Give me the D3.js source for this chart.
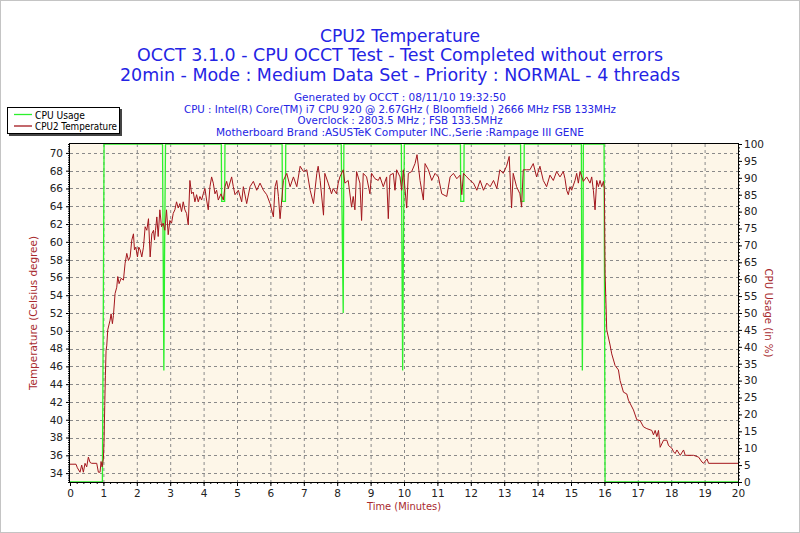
<!DOCTYPE html>
<html>
<head>
<meta charset="utf-8">
<script src="https://cdn.jsdelivr.net/npm/d3@7"></script>
<style>
    body { margin: 0; background: #fff; }
    svg { display: block; font-family: "DejaVu Sans", Verdana, sans-serif; }
</style>
</head>
<body>
<div id="chart"></div>
<script>
// ---- data ----
const titleLines = [
    "CPU2 Temperature",
    "OCCT 3.1.0 - CPU OCCT Test - Test Completed without errors",
    "20min - Mode : Medium Data Set - Priority : NORMAL - 4 threads"
];
const infoLines = [
    "Generated by OCCT : 08/11/10 19:32:50",
    "CPU : Intel(R) Core(TM) i7 CPU 920 @ 2.67GHz ( Bloomfield ) 2666 MHz FSB 133MHz",
    "Overclock : 2803.5 MHz ; FSB 133.5MHz",
    "Motherboard Brand :ASUSTeK Computer INC.,Serie :Rampage III GENE"
];
const seriesNames = ["CPU Usage", "CPU2 Temperature"];

const minuteTicks = d3.range(0, 21, 1);
const tempTicks = d3.range(34, 71, 2);
const usageTicks = d3.range(0, 101, 5);

// [minute, %]
const cpuUsage = [
    [0, 0], [0.97, 0], [1.0, 57], [1.02, 100],
    [2.77, 100], [2.79, 66], [2.81, 33], [2.83, 66], [2.86, 100],
    [4.53, 100], [4.54, 83], [4.63, 83], [4.64, 100],
    [6.35, 100], [6.36, 83], [6.45, 83], [6.46, 100],
    [8.12, 100], [8.14, 83], [8.18, 50], [8.2, 100],
    [9.92, 100], [9.94, 66], [9.96, 33], [9.98, 66], [10.01, 100],
    [11.69, 100], [11.7, 83], [11.79, 83], [11.8, 100],
    [13.49, 100], [13.5, 83], [13.59, 83], [13.6, 100],
    [15.31, 100], [15.32, 66], [15.34, 33], [15.36, 66], [15.37, 100],
    [15.99, 100], [16.01, 35], [16.02, 0], [20, 0]
];

// [minute, degC]
const cpu2Temp = [
    [0, 35], [0.18, 35], [0.22, 34.6], [0.3, 34.1], [0.35, 34.9], [0.4, 34.1], [0.45, 35.1],
    [0.5, 34.7], [0.55, 35.8], [0.6, 35.2], [0.65, 35.1], [0.8, 35.1], [0.85, 34.1], [0.9, 34.1],
    [0.93, 35.3], [0.96, 34.7], [1.0, 35.6], [1.02, 37.7], [1.04, 41.6], [1.06, 45], [1.08, 47.8],
    [1.1, 48.3], [1.13, 50.1],
    [1.2, 51.2], [1.23, 51.9], [1.27, 50.8], [1.3, 51.7], [1.35, 54.2], [1.4, 54.9], [1.43, 56.1],
    [1.47, 55.3], [1.53, 55.9], [1.6, 55.7], [1.65, 57.6], [1.7, 58.7], [1.75, 57.9], [1.8, 58.3],
    [1.85, 60.2], [1.9, 60.9], [1.93, 59.1], [1.97, 59.4], [2.02, 58.3], [2.06, 59.4], [2.1, 59.1],
    [2.15, 58.3], [2.2, 59.4], [2.25, 61.7], [2.3, 61.3], [2.35, 62.6], [2.4, 58.3], [2.45, 60.9],
    [2.5, 61.3], [2.53, 60.2], [2.56, 61.3], [2.6, 62.8], [2.64, 60.6], [2.69, 63.6], [2.74, 61.7],
    [2.79, 62.1], [2.84, 61.3], [2.89, 63.6], [2.94, 60.8], [2.99, 62.4], [3.04, 62.1], [3.09, 63.2],
    [3.14, 63.6], [3.19, 64.5], [3.24, 63.8], [3.29, 64.3], [3.34, 63.4], [3.39, 64.5], [3.44, 63.6],
    [3.49, 63.2], [3.54, 61.9], [3.59, 66.9], [3.64, 65.4], [3.69, 65.6], [3.74, 64.5], [3.79, 65.3],
    [3.84, 64.5], [3.89, 65.1], [3.94, 64.7], [3.99, 65.4], [4.04, 66.0], [4.09, 64.7], [4.14, 63.6],
    [4.19, 66.2], [4.24, 67.3], [4.29, 66.6], [4.34, 65.4], [4.39, 65.8], [4.44, 64.7], [4.52, 65.4],
    [4.59, 64.7], [4.64, 66.2],
    [4.69, 66.8], [4.74, 66.0], [4.84, 67.3], [4.89, 66.2], [4.94, 65.3], [5.04, 65.8], [5.14, 64.5],
    [5.19, 66.2], [5.29, 64.3], [5.39, 66.2], [5.49, 66.8], [5.59, 65.8], [5.69, 66.6], [5.79, 65.8],
    [5.89, 65.3], [5.99, 64.3], [6.09, 62.8], [6.14, 66.2], [6.19, 66.9], [6.24, 65.1], [6.29, 62.6],
    [6.39, 66.9], [6.49, 67.7], [6.59, 66.2], [6.69, 67.3], [6.79, 66.2], [6.89, 68.5], [6.99, 67.9],
    [7.09, 68.1], [7.19, 65.8],
    [7.29, 64.3], [7.39, 67.7], [7.43, 68.5], [7.49, 66.9], [7.59, 63.0], [7.63, 67.7], [7.73, 66.6],
    [7.83, 65.4], [7.88, 66.0], [7.98, 65.4], [8.03, 66.6], [8.08, 67.3], [8.18, 68.1], [8.23, 66.6],
    [8.33, 66.9], [8.43, 63.9], [8.48, 65.1], [8.53, 63.6], [8.58, 67.9], [8.68, 66.6], [8.73, 62.4],
    [8.78, 67.7], [8.88, 67.3], [8.98, 65.4], [9.03, 67.7], [9.13, 67.1], [9.23, 66.9], [9.28, 67.3],
    [9.38, 66.2], [9.48, 67.3], [9.53, 62.6], [9.58, 67.5], [9.68, 67.7], [9.73, 65.8], [9.78, 68.1],
    [9.88, 67.3], [9.93, 65.8], [9.98, 68.1], [10.08, 63.8], [10.13, 67.7], [10.23, 67.9], [10.33, 68.8],
    [10.39, 69.8], [10.48, 66.9], [10.58, 64.7], [10.63, 68.8], [10.73, 68.1], [10.83, 66.9], [10.93, 67.7],
    [11.03, 67.3], [11.13, 65.4], [11.28, 65.1], [11.38, 67.3], [11.48, 67.7], [11.58, 67.1], [11.68, 67.5],
    [11.73, 65.3], [11.78, 67.7], [11.88, 67.3], [11.98, 66.9], [12.08, 66.6], [12.18, 65.8], [12.28, 66.9],
    [12.38, 65.8], [12.48, 66.6], [12.58, 66.2], [12.68, 66.9], [12.78, 66.0], [12.87, 68.1], [12.97, 67.7],
    [13.07, 68.5], [13.15, 69.6], [13.22, 63.8], [13.27, 67.7], [13.37, 66.2], [13.47, 65.4], [13.52, 63.9],
    [13.57, 68.1], [13.67, 68.1], [13.77, 68.1], [13.87, 68.8], [13.97, 67.3], [14.07, 68.5], [14.17, 66.9],
    [14.27, 66.2], [14.37, 67.5],
    [14.47, 66.9], [14.57, 67.9], [14.67, 67.3], [14.77, 67.9], [14.82, 67.1], [14.87, 65.8], [14.92, 65.3],
    [14.97, 66.2], [15.02, 65.8], [15.12, 66.9], [15.17, 67.7], [15.22, 66.6], [15.27, 67.9], [15.37, 66.8],
    [15.47, 67.3], [15.57, 66.6], [15.62, 67.3], [15.67, 65.8], [15.72, 63.6], [15.77, 66.9], [15.82, 66.2],
    [15.87, 66.9], [15.92, 66.2], [15.97, 66.8], [16.0, 66.0], [16.005, 63.6], [16.02, 56.5], [16.07, 50.1],
    [16.17, 48.4], [16.22, 47.4], [16.32, 46.1], [16.42, 45.6], [16.47, 44.4], [16.57, 43.1], [16.67, 42.9],
    [16.72, 42.2], [16.87, 41.1], [16.97, 40.0], [17.07, 39.9], [17.17, 39.2], [17.27, 39.0], [17.42, 38.8],
    [17.47, 38.3], [17.52, 38.8], [17.57, 38.1], [17.62, 38.8], [17.67, 36.9], [17.77, 37.7], [17.87, 37.7],
    [17.92, 37.1], [18.02, 36.8], [18.07, 36.4], [18.12, 36.2], [18.17, 36.6], [18.27, 36.0], [18.37, 36.6],
    [18.42, 36.0], [18.67, 36.0], [18.82, 35.8], [18.92, 35.25], [18.97, 35.1], [19.07, 35.6], [19.12, 35.1],
    [20, 35.1]
];

// ---- layout ----
const W = 800, H = 533;
const margin = {top: 144, right: 62, bottom: 51, left: 70};
const width = W - margin.left - margin.right;
const height = H - margin.top - margin.bottom;

const blue = "#2424e4";
const axisRed = "#a82a2e";
const tempColor = "#a3161c";
const cpuColor = "#2cf02c";

const svg = d3.select("#chart").append("svg")
    .attr("width", W)
    .attr("height", H);

svg.append("rect")
    .attr("x", 0.5).attr("y", 0.5)
    .attr("width", W - 1).attr("height", H - 1)
    .attr("fill", "#fff")
    .attr("stroke", "#c4c4c4");

// titles
const titleY = [42, 61, 81];
const titleW = [160, 526, 560];
svg.selectAll(".title")
    .data(titleLines)
    .enter().append("text")
    .attr("class", "title")
    .attr("x", W / 2)
    .attr("y", (d, i) => titleY[i])
    .attr("text-anchor", "middle")
    .attr("font-size", 18)
    .attr("fill", blue)
    .attr("textLength", (d, i) => titleW[i])
    .attr("lengthAdjust", "spacingAndGlyphs")
    .text(d => d);

const infoY = [101, 112.5, 124, 135.5];
const infoW = [212, 432, 205, 368];
svg.selectAll(".info")
    .data(infoLines)
    .enter().append("text")
    .attr("class", "info")
    .attr("x", W / 2)
    .attr("y", (d, i) => infoY[i])
    .attr("text-anchor", "middle")
    .attr("font-size", 11)
    .attr("fill", blue)
    .attr("textLength", (d, i) => infoW[i])
    .attr("lengthAdjust", "spacingAndGlyphs")
    .text(d => d);

// legend
const legend = svg.append("g").attr("transform", "translate(7,107)");
legend.append("rect")
    .attr("x", 2).attr("y", 2)
    .attr("width", 113).attr("height", 27)
    .attr("fill", "#444");
legend.append("rect")
    .attr("x", 0.5).attr("y", 0.5)
    .attr("width", 112).attr("height", 26)
    .attr("fill", "#fff")
    .attr("stroke", "#000");
const legendColors = [cpuColor, tempColor];
seriesNames.forEach((name, i) => {
    legend.append("line")
        .attr("x1", 7).attr("x2", 25)
        .attr("y1", 7.5 + i * 11.5).attr("y2", 7.5 + i * 11.5)
        .attr("stroke", legendColors[i])
        .attr("stroke-width", 1.3);
    legend.append("text")
        .attr("x", 28).attr("y", 11.5 + i * 11.5)
        .attr("font-size", 10.5)
        .attr("fill", "#000")
        .attr("textLength", i === 0 ? 50 : 82)
        .attr("lengthAdjust", "spacingAndGlyphs")
        .text(name);
});

// plot
const g = svg.append("g").attr("transform", `translate(${margin.left},${margin.top})`);

const x = d3.scaleLinear().domain([0, 20]).range([0, width]);
const yTemp = d3.scaleLinear().domain([33, 71]).range([height, 0]);
const yCpu = d3.scaleLinear().domain([0, 100]).range([height, 0]);

g.append("rect")
    .attr("width", width).attr("height", height)
    .attr("fill", "#fdf6e8");

// dashed grid
g.append("g").selectAll("line")
    .data(minuteTicks.slice(1, -1))
    .enter().append("line")
    .attr("x1", d => x(d) + 0.5).attr("x2", d => x(d) + 0.5)
    .attr("y1", 0).attr("y2", height)
    .attr("stroke", "#8a8a8a")
    .attr("stroke-dasharray", "3,3");
g.append("g").selectAll("line")
    .data(tempTicks)
    .enter().append("line")
    .attr("x1", 0).attr("x2", width)
    .attr("y1", d => Math.round(yTemp(d)) + 0.5).attr("y2", d => Math.round(yTemp(d)) + 0.5)
    .attr("stroke", "#8a8a8a")
    .attr("stroke-dasharray", "3,3");

// series
g.append("defs").append("clipPath").attr("id", "plot-clip")
    .append("rect").attr("width", width).attr("height", height);

const plot = g.append("g").attr("clip-path", "url(#plot-clip)");

plot.append("path")
    .datum(cpuUsage)
    .attr("fill", "none")
    .attr("stroke", cpuColor)
    .attr("stroke-width", 1.3)
    .attr("d", d3.line().x(d => x(d[0])).y(d => yCpu(d[1])));

plot.append("path")
    .datum(cpu2Temp)
    .attr("fill", "none")
    .attr("stroke", tempColor)
    .attr("stroke-width", 1)
    .attr("stroke-linejoin", "round")
    .attr("d", d3.line().x(d => x(d[0])).y(d => yTemp(d[1])));

// frame
g.append("rect")
    .attr("x", -0.5).attr("y", -0.5)
    .attr("width", width + 1).attr("height", height + 1)
    .attr("fill", "none")
    .attr("stroke", "#000");

// axes
function styleAxis(sel) {
    sel.attr("font-family", "DejaVu Sans, Verdana, sans-serif")
        .attr("font-size", 10.5);
    sel.select(".domain").remove();
    sel.selectAll(".tick line").attr("stroke", "#000");
    sel.selectAll(".tick text").attr("fill", "#222");
}

g.append("g")
    .call(d3.axisLeft(yTemp).tickValues(d3.range(33, 71.01, 0.25)).tickSize(2).tickFormat(""))
    .call(styleAxis);
g.append("g")
    .call(d3.axisLeft(yTemp).tickValues(tempTicks).tickSize(4).tickPadding(3))
    .call(styleAxis);

g.append("g")
    .attr("transform", `translate(${width},0)`)
    .call(d3.axisRight(yCpu).tickValues(d3.range(0, 101, 1)).tickSize(2).tickFormat(""))
    .call(styleAxis);
g.append("g")
    .attr("transform", `translate(${width},0)`)
    .call(d3.axisRight(yCpu).tickValues(usageTicks).tickSize(4).tickPadding(2))
    .call(styleAxis);

g.append("g")
    .attr("transform", `translate(0,${height})`)
    .call(d3.axisBottom(x).tickValues(d3.range(0, 20.01, 0.2)).tickSize(2).tickFormat(""))
    .call(styleAxis);
g.append("g")
    .attr("transform", `translate(0,${height})`)
    .call(d3.axisBottom(x).tickValues(minuteTicks).tickSize(4).tickPadding(4))
    .call(styleAxis);

// axis titles
svg.append("text")
    .attr("transform", `translate(37,${margin.top + height / 2}) rotate(-90)`)
    .attr("text-anchor", "middle")
    .attr("font-size", 11)
    .attr("fill", axisRed)
    .attr("textLength", 154)
    .attr("lengthAdjust", "spacingAndGlyphs")
    .text("Temperature (Celsius degree)");

svg.append("text")
    .attr("transform", `translate(765,${margin.top + height / 2}) rotate(90)`)
    .attr("text-anchor", "middle")
    .attr("font-size", 11)
    .attr("fill", axisRed)
    .attr("textLength", 89)
    .attr("lengthAdjust", "spacingAndGlyphs")
    .text("CPU Usage (in %)");

svg.append("text")
    .attr("x", margin.left + width / 2)
    .attr("y", 510)
    .attr("text-anchor", "middle")
    .attr("font-size", 11)
    .attr("fill", axisRed)
    .attr("textLength", 74)
    .attr("lengthAdjust", "spacingAndGlyphs")
    .text("Time (Minutes)");
</script>
</body>
</html>
